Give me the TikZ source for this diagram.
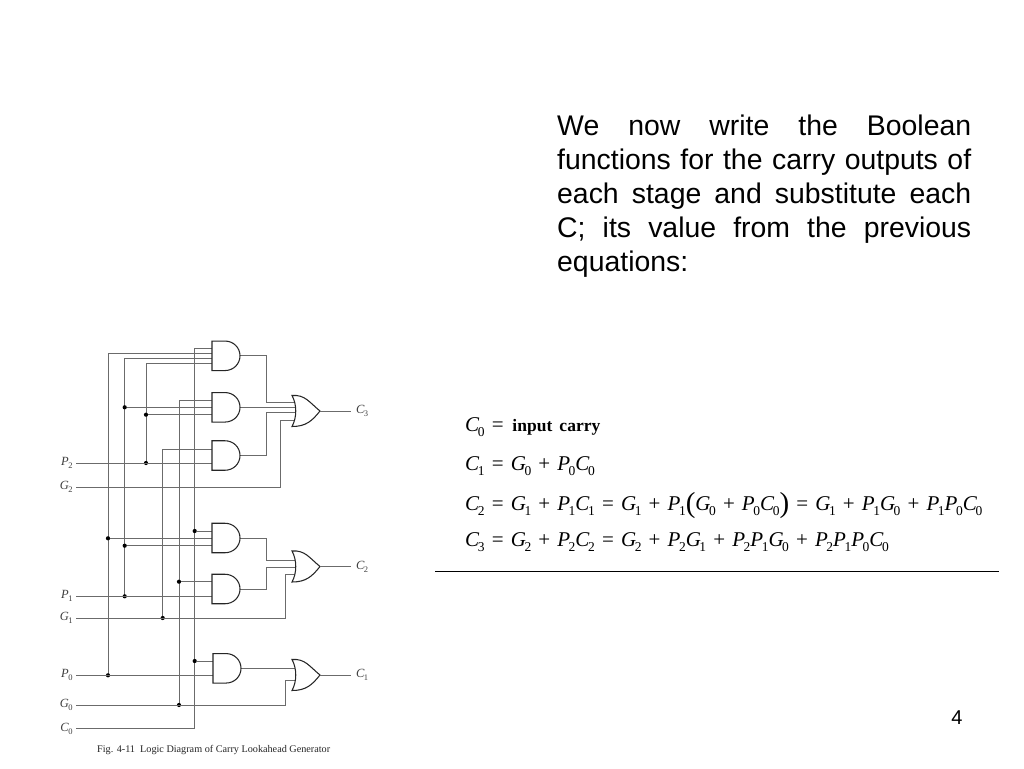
\documentclass[tikz,border=0pt]{standalone}
\usepackage{fontspec}
\setmainfont{Liberation Sans}
\newfontfamily\tms{Liberation Serif}
\usetikzlibrary{calc}
\newcommand{\eqsp}{\spaceskip=.34em\relax}
\newcommand{\lab}[2]{{\tms\fontsize{12.5}{12}\selectfont\textit{#1}\kern-.05em\raisebox{-.25em}{\fontsize{8.5}{8.5}\selectfont #2}}}
\newcommand{\eqv}[2]{\textit{#1}\kern-.07em\raisebox{-.25em}{\fontsize{13.5}{13}\selectfont #2}}
\newcommand{\andshape}[1]{\draw[gateline] (#1.north west) -- ++(13,0) .. controls +(8.3,0) and +(0,-8.3) .. (#1.east) .. controls +(0,8.3) and +(8.3,0) .. ($(#1.south west)+(13,0)$) -- (#1.south west) -- cycle;}
\newcommand{\orshape}[1]{\draw[gateline] (#1.north west) .. controls +(13,-1) and +(-11,-9) .. (#1.east) .. controls +(-8,10) and +(14,0) .. (#1.south west) .. controls +(5,-9) and +(5,9) .. (#1.north west) -- cycle;}
\tikzset{
  x=1pt,y=-1pt,
  wire/.style={line width=1pt,draw=black!58},
  gateline/.style={line width=1.05pt,draw=black!85,fill=white},
  andg/.style={rectangle,draw=none,minimum width=28pt,minimum height=29.5pt,inner sep=0pt,outer sep=0pt},
  org/.style={rectangle,draw=none,minimum width=28pt,minimum height=31pt,inner sep=0pt,outer sep=0pt},
  dotn/.style={circle,fill=black,minimum size=4.2pt,inner sep=0pt,outer sep=0pt},
  inlab/.style={anchor=east,inner sep=0pt,outer xsep=3.5pt,text=black!75},
  outlab/.style={anchor=west,inner sep=0pt,outer xsep=5pt,text=black!75},
  eqn/.style={anchor=base west,inner sep=0pt,font=\tms\fontsize{21}{21}\selectfont},
}
\begin{document}
\begin{tikzpicture}
\useasboundingbox (0,0) rectangle (1024,768);
\fill[white] (0,0) rectangle (1024,768);

% text
\node[anchor=north west,inner sep=0pt,text width=414pt,align=justify,font=\fontsize{28.4}{34}\selectfont] (para) at (557,114.5)
 {We now write the Boolean\linebreak functions for the carry outputs of\linebreak each stage and substitute each\linebreak C; its value from the previous\linebreak equations:};
\node[anchor=base,inner sep=0pt,font=\fontsize{20}{20}\selectfont] (pageno) at (957,724.5) {4};

% equations
\node[eqn] (eq0) at (465,431) {\eqsp\eqv{C}{0} = \kern.08em\textbf{\fontsize{17.5}{20}\selectfont input carry}};
\node[eqn] (eq1) at (465,470) {\eqsp\eqv{C}{1} = \eqv{G}{0} + \eqv{P}{0}\eqv{C}{0}};
\node[eqn] (eq2) at (465,510.5) {\eqsp\eqv{C}{2} = \eqv{G}{1} + \eqv{P}{1}\eqv{C}{1} = \eqv{G}{1} + \eqv{P}{1}\raisebox{-.1em}{\fontsize{29}{29}\selectfont(}\eqv{G}{0} + \eqv{P}{0}\eqv{C}{0}\raisebox{-.1em}{\fontsize{29}{29}\selectfont)} = \eqv{G}{1} + \eqv{P}{1}\eqv{G}{0} + \eqv{P}{1}\eqv{P}{0}\eqv{C}{0}};
\node[eqn] (eq3) at (465,546.5) {\eqsp\eqv{C}{3} = \eqv{G}{2} + \eqv{P}{2}\eqv{C}{2} = \eqv{G}{2} + \eqv{P}{2}\eqv{G}{1} + \eqv{P}{2}\eqv{P}{1}\eqv{G}{0} + \eqv{P}{2}\eqv{P}{1}\eqv{P}{0}\eqv{C}{0}};
\coordinate (ruleL) at (435,571);
\coordinate (ruleR) at (999,571);
\draw[line width=.9pt] (ruleL) -- (ruleR);

% vertical bus positions
\coordinate (vA) at (108,0);
\coordinate (vB) at (124.7,0);
\coordinate (vD) at (146,0);
\coordinate (vC) at (162.7,0);
\coordinate (vE) at (179,0);
\coordinate (vF) at (194.7,0);
\coordinate (busL) at (266.7,0);
\coordinate (bus3) at (280.7,0);
\coordinate (bus2) at (285.7,0);

% input labels
\node[inlab] (p2) at (76,463) {\lab{P}{2}};
\node[inlab] (g2) at (76,487) {\lab{G}{2}};
\node[inlab] (p1) at (76,596.3) {\lab{P}{1}};
\node[inlab] (g1) at (76,618) {\lab{G}{1}};
\node[inlab] (p0) at (76,675.3) {\lab{P}{0}};
\node[inlab] (g0) at (76,705) {\lab{G}{0}};
\node[inlab] (c0) at (76,728.7) {\lab{C}{0}};

% gates
\node[andg] (a1) at (226,355.8) {};
\node[andg] (a2) at (226,407.3) {};
\node[andg] (a3) at (226,455.5) {};
\node[andg] (a4) at (226,538) {};
\node[andg] (a5) at (226,589) {};
\node[andg] (a6) at (227,668.3) {};
\node[org] (o3) at (306,411) {};
\node[org] (o2) at (306,566.5) {};
\node[org] (o1) at (306,675) {};

% gate input points
\coordinate (a1i1) at (212,348.7);
\coordinate (a1i2) at (212,353.3);
\coordinate (a1i3) at (212,358.3);
\coordinate (a1i4) at (212,363);
\coordinate (a2i1) at (212,400);
\coordinate (a2i2) at (212,407.3);
\coordinate (a2i3) at (212,414.7);
\coordinate (a3i1) at (212,449);
\coordinate (a3i2) at (212,463);
\coordinate (a4i1) at (212,531);
\coordinate (a4i2) at (212,538.3);
\coordinate (a4i3) at (212,545.7);
\coordinate (a5i1) at (212,581.7);
\coordinate (a5i2) at (212,596.3);
\coordinate (a6i1) at (213,661);
\coordinate (a6i2) at (213,675.3);
\coordinate (o3i1) at (295,402.3);
\coordinate (o3i2) at (295.5,407.3);
\coordinate (o3i3) at (295.5,412.7);
\coordinate (o3i4) at (295,420);
\coordinate (o2i1) at (295,560);
\coordinate (o2i2) at (295.5,567.3);
\coordinate (o2i3) at (295,574.3);
\coordinate (o1i1) at (295,668.3);
\coordinate (o1i2) at (295,680.7);

% wires
\draw[wire] (a1i1) -- (vF |- a1i1) -- (vF |- c0.east) -- (c0.east);
\draw[wire] (a1i2) -- (vA |- a1i2) -- (vA |- p0.east);
\draw[wire] (a1i3) -- (vB |- a1i3) -- (vB |- p1.east);
\draw[wire] (a1i4) -- (vD |- a1i4) -- (vD |- p2.east);
\draw[wire] (a2i1) -- (vE |- a2i1) -- (vE |- g0.east);
\draw[wire] (a3i1) -- (vC |- a3i1) -- (vC |- g1.east);
\node[dotn] (d1) at (vB |- a2i2) {};
\node[dotn] (d2) at (vD |- a2i3) {};
\node[dotn] (d3) at (vD |- a3i2) {};
\node[dotn] (d4) at (vF |- a4i1) {};
\node[dotn] (d5) at (vA |- a4i2) {};
\node[dotn] (d6) at (vB |- a4i3) {};
\node[dotn] (d7) at (vE |- a5i1) {};
\node[dotn] (d8) at (vB |- a5i2) {};
\node[dotn] (d9) at (vC |- g1.east) {};
\node[dotn] (d10) at (vF |- a6i1) {};
\node[dotn] (d11) at (vA |- a6i2) {};
\node[dotn] (d12) at (vE |- g0.east) {};
\draw[wire] (d1) -- (a2i2);
\draw[wire] (d2) -- (a2i3);
\draw[wire] (p2.east) -- (a3i2);
\draw[wire] (d4) -- (a4i1);
\draw[wire] (d5) -- (a4i2);
\draw[wire] (d6) -- (a4i3);
\draw[wire] (d7) -- (a5i1);
\draw[wire] (p1.east) -- (a5i2);
\draw[wire] (d10) -- (a6i1);
\draw[wire] (p0.east) -- (a6i2);
\draw[wire] (g2.east) -- (bus3 |- g2.east) -- (bus3 |- o3i4) -- (o3i4);
\draw[wire] (g1.east) -- (bus2 |- g1.east) -- (bus2 |- o2i3) -- (o2i3);
\draw[wire] (g0.east) -- (bus2 |- g0.east) -- (bus2 |- o1i2) -- (o1i2);
\draw[wire] (a1.east) -- (busL |- a1.east) -- (busL |- o3i1) -- (o3i1);
\draw[wire] (a2.east) -- (o3i2);
\draw[wire] (a3.east) -- (busL |- a3.east) -- (busL |- o3i3) -- (o3i3);
\draw[wire] (a4.east) -- (busL |- a4.east) -- (busL |- o2i1) -- (o2i1);
\draw[wire] (a5.east) -- (busL |- a5.east) -- (busL |- o2i2) -- (o2i2);
\draw[wire] (a6.east) -- (o1i1);

% gate bodies
\andshape{a1}\andshape{a2}\andshape{a3}\andshape{a4}\andshape{a5}\andshape{a6}
\orshape{o3}\orshape{o2}\orshape{o1}

% outputs
\node[outlab] (c3) at (351,411) {\lab{C}{3}};
\node[outlab] (c2) at (351,566.5) {\lab{C}{2}};
\node[outlab] (c1) at (351,675) {\lab{C}{1}};
\draw[wire] (o3.east) -- (c3.west);
\draw[wire] (o2.east) -- (c2.west);
\draw[wire] (o1.east) -- (c1.west);

% caption
\node[anchor=base west,inner sep=0pt,font=\tms\fontsize{10.2}{12}\selectfont,text=black!85] (cap) at (97,752) {Fig. 4-11\ \ Logic Diagram of Carry Lookahead Generator};
\end{tikzpicture}
\end{document}
